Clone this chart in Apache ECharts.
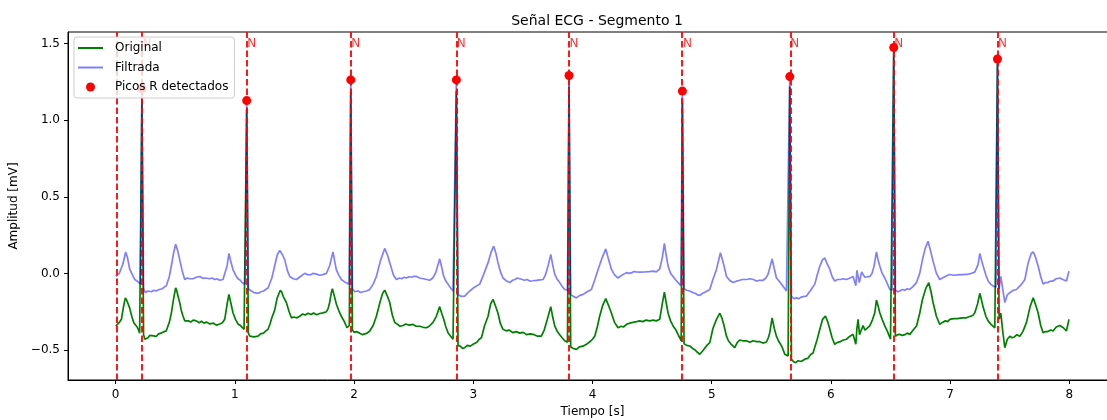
<!DOCTYPE html>
<html>
<head>
<meta charset="utf-8">
<script src="https://cdn.jsdelivr.net/npm/echarts@6/dist/echarts.min.js"></script>
<style>
  html, body { margin: 0; padding: 0; background: #fff; }
  #chart { width: 1107px; height: 420px; }
</style>
</head>
<body>
<div id="chart"></div>
<script>
// tiempo [s], amplitud [mV]
const original = [
  [0.000,-0.345],[0.015,-0.335],[0.030,-0.32],[0.048,-0.30],[0.065,-0.22],[0.081,-0.16],[0.092,-0.175],[0.100,-0.19],[0.117,-0.225],[0.135,-0.28],[0.151,-0.32],[0.165,-0.335],[0.180,-0.35],[0.192,-0.37],[0.201,-0.39],[0.210,-0.38],
  [0.220,1.14],[0.234,-0.40],
  [0.245,-0.43],[0.258,-0.425],[0.271,-0.42],[0.285,-0.405],[0.300,-0.418],[0.320,-0.408],[0.340,-0.412],[0.360,-0.395],[0.380,-0.39],[0.400,-0.382],[0.425,-0.375],[0.440,-0.34],[0.450,-0.32],[0.467,-0.26],[0.485,-0.17],[0.503,-0.095],[0.512,-0.11],[0.520,-0.14],[0.537,-0.19],[0.550,-0.24],[0.565,-0.28],[0.580,-0.31],[0.593,-0.32],[0.610,-0.31],[0.630,-0.318],[0.650,-0.305],[0.677,-0.31],[0.700,-0.322],[0.720,-0.312],[0.740,-0.325],[0.761,-0.318],[0.790,-0.33],[0.820,-0.325],[0.845,-0.338],[0.873,-0.33],[0.895,-0.322],[0.915,-0.30],[0.935,-0.20],[0.950,-0.137],[0.965,-0.19],[0.984,-0.257],[1.005,-0.30],[1.026,-0.33],[1.045,-0.34],[1.060,-0.35],[1.077,-0.365],[1.088,-0.37],
  [1.099,1.07],[1.113,-0.39],
  [1.125,-0.41],[1.138,-0.40],[1.160,-0.415],[1.175,-0.405],[1.194,-0.41],[1.215,-0.395],[1.240,-0.39],[1.260,-0.375],[1.278,-0.365],[1.295,-0.33],[1.310,-0.29],[1.334,-0.24],[1.355,-0.16],[1.381,-0.11],[1.395,-0.125],[1.405,-0.15],[1.432,-0.19],[1.455,-0.25],[1.474,-0.29],[1.495,-0.285],[1.520,-0.29],[1.544,-0.28],[1.570,-0.265],[1.590,-0.272],[1.614,-0.26],[1.640,-0.268],[1.660,-0.258],[1.685,-0.27],[1.712,-0.262],[1.740,-0.258],[1.768,-0.25],[1.782,-0.23],[1.795,-0.19],[1.808,-0.13],[1.818,-0.10],[1.835,-0.15],[1.851,-0.20],[1.870,-0.24],[1.893,-0.28],[1.915,-0.31],[1.941,-0.355],[1.960,-0.34],
  [1.972,1.19],[1.986,-0.37],
  [2.000,-0.385],[2.020,-0.38],[2.047,-0.39],[2.070,-0.40],[2.090,-0.395],[2.110,-0.39],[2.131,-0.376],[2.160,-0.34],[2.187,-0.28],[2.220,-0.18],[2.240,-0.13],[2.257,-0.109],[2.280,-0.15],[2.299,-0.19],[2.320,-0.27],[2.341,-0.32],[2.360,-0.33],[2.385,-0.345],[2.411,-0.34],[2.435,-0.33],[2.460,-0.338],[2.495,-0.333],[2.520,-0.345],[2.550,-0.345],[2.580,-0.352],[2.607,-0.355],[2.630,-0.345],[2.662,-0.32],[2.690,-0.28],[2.718,-0.217],[2.735,-0.26],[2.752,-0.30],[2.770,-0.35],[2.788,-0.387],[2.810,-0.41],[2.830,-0.43],[2.846,-0.44],
  [2.858,1.19],[2.872,-0.47],
  [2.890,-0.475],[2.910,-0.49],[2.928,-0.485],[2.950,-0.47],[2.975,-0.475],[2.998,-0.463],[3.030,-0.45],[3.050,-0.43],[3.068,-0.42],[3.095,-0.34],[3.124,-0.28],[3.145,-0.20],[3.166,-0.17],[3.185,-0.21],[3.207,-0.26],[3.228,-0.33],[3.249,-0.365],[3.275,-0.375],[3.300,-0.37],[3.333,-0.387],[3.360,-0.38],[3.390,-0.39],[3.420,-0.385],[3.445,-0.40],[3.480,-0.395],[3.510,-0.40],[3.540,-0.41],[3.571,-0.41],[3.595,-0.37],[3.621,-0.30],[3.650,-0.217],[3.665,-0.28],[3.683,-0.343],[3.705,-0.38],[3.725,-0.40],[3.745,-0.42],[3.767,-0.44],[3.790,-0.45],
  [3.803,1.22],[3.817,-0.48],
  [3.840,-0.49],[3.865,-0.496],[3.890,-0.48],[3.920,-0.475],[3.949,-0.463],[3.980,-0.445],[4.000,-0.43],[4.019,-0.41],[4.040,-0.35],[4.060,-0.28],[4.085,-0.21],[4.111,-0.165],[4.135,-0.21],[4.159,-0.26],[4.185,-0.32],[4.214,-0.355],[4.240,-0.345],[4.260,-0.35],[4.285,-0.333],[4.310,-0.325],[4.340,-0.32],[4.370,-0.315],[4.396,-0.31],[4.420,-0.315],[4.450,-0.305],[4.480,-0.31],[4.508,-0.305],[4.535,-0.31],[4.564,-0.30],[4.585,-0.20],[4.603,-0.122],[4.618,-0.19],[4.634,-0.26],[4.655,-0.31],[4.676,-0.343],[4.700,-0.37],[4.718,-0.40],[4.732,-0.42],[4.744,-0.44],
  [4.754,1.12],[4.768,-0.46],
  [4.790,-0.47],[4.816,-0.474],[4.840,-0.49],[4.860,-0.50],[4.880,-0.515],[4.900,-0.528],[4.920,-0.51],[4.940,-0.49],[4.960,-0.47],[4.984,-0.452],[5.010,-0.36],[5.040,-0.30],[5.068,-0.26],[5.085,-0.29],[5.100,-0.33],[5.124,-0.41],[5.140,-0.44],[5.160,-0.46],[5.175,-0.47],[5.193,-0.485],[5.215,-0.45],[5.235,-0.435],[5.260,-0.44],[5.290,-0.44],[5.320,-0.45],[5.347,-0.44],[5.375,-0.445],[5.400,-0.445],[5.430,-0.455],[5.459,-0.448],[5.475,-0.42],[5.487,-0.387],[5.507,-0.29],[5.525,-0.36],[5.543,-0.41],[5.560,-0.44],[5.571,-0.452],[5.590,-0.48],[5.613,-0.528],[5.641,-0.54],
  [5.655,1.22],[5.669,-0.56],
  [5.685,-0.575],[5.705,-0.583],[5.725,-0.57],[5.750,-0.575],[5.781,-0.56],[5.805,-0.555],[5.830,-0.53],[5.850,-0.52],[5.865,-0.507],[5.885,-0.43],[5.907,-0.365],[5.930,-0.30],[5.954,-0.278],[5.975,-0.32],[5.991,-0.365],[6.010,-0.42],[6.032,-0.463],[6.055,-0.45],[6.080,-0.445],[6.105,-0.435],[6.130,-0.43],[6.160,-0.41],[6.186,-0.398],[6.209,-0.463],[6.218,-0.36],[6.228,-0.30],[6.240,-0.40],[6.256,-0.387],[6.270,-0.34],[6.285,-0.37],[6.300,-0.36],[6.326,-0.343],[6.350,-0.30],[6.368,-0.257],[6.382,-0.174],[6.395,-0.21],[6.410,-0.257],[6.430,-0.30],[6.452,-0.343],[6.475,-0.38],[6.500,-0.43],[6.514,-0.44],
  [6.527,1.45],[6.541,-0.41],
  [6.560,-0.40],[6.578,-0.398],[6.600,-0.405],[6.620,-0.40],[6.640,-0.39],[6.662,-0.398],[6.690,-0.37],[6.718,-0.343],[6.745,-0.26],[6.768,-0.17],[6.795,-0.10],[6.821,-0.061],[6.840,-0.12],[6.857,-0.19],[6.885,-0.28],[6.913,-0.333],[6.935,-0.32],[6.960,-0.31],[6.980,-0.315],[6.997,-0.30],[7.030,-0.295],[7.060,-0.295],[7.100,-0.29],[7.137,-0.29],[7.170,-0.28],[7.190,-0.275],[7.207,-0.257],[7.230,-0.20],[7.249,-0.13],[7.262,-0.17],[7.277,-0.22],[7.300,-0.28],[7.319,-0.31],[7.345,-0.335],[7.375,-0.355],[7.386,-0.36],
  [7.397,1.37],[7.411,-0.30],
  [7.425,-0.26],[7.445,-0.40],[7.459,-0.485],[7.480,-0.43],[7.501,-0.41],[7.520,-0.42],[7.540,-0.415],[7.560,-0.40],[7.585,-0.41],[7.610,-0.38],[7.641,-0.32],[7.670,-0.22],[7.697,-0.16],[7.715,-0.20],[7.738,-0.257],[7.760,-0.34],[7.780,-0.387],[7.800,-0.38],[7.820,-0.38],[7.845,-0.37],[7.864,-0.376],[7.890,-0.35],[7.920,-0.34],[7.950,-0.355],[7.976,-0.376],[7.997,-0.30]
];

const filtrada = [
  [0.000,-0.02],[0.030,0.00],[0.060,0.06],[0.084,0.14],[0.100,0.10],[0.117,0.03],[0.140,-0.01],[0.160,-0.04],[0.180,-0.05],[0.195,-0.06],[0.208,-0.07],
  [0.220,1.209],[0.234,-0.10],
  [0.250,-0.125],[0.271,-0.115],[0.300,-0.12],[0.320,-0.11],[0.340,-0.115],[0.365,-0.105],[0.390,-0.10],[0.425,-0.08],[0.450,-0.02],[0.467,0.05],[0.485,0.13],[0.503,0.19],[0.520,0.15],[0.537,0.09],[0.560,0.01],[0.579,-0.04],[0.600,-0.03],[0.620,-0.035],[0.649,-0.035],[0.675,-0.025],[0.705,-0.02],[0.730,-0.032],[0.750,-0.03],[0.789,-0.035],[0.810,-0.03],[0.830,-0.04],[0.850,-0.035],[0.873,-0.045],[0.900,-0.04],[0.915,-0.03],[0.935,0.05],[0.950,0.13],[0.965,0.08],[0.984,0.025],[1.005,-0.01],[1.026,-0.035],[1.045,-0.045],[1.060,-0.06],[1.086,-0.07],
  [1.099,1.128],[1.113,-0.10],
  [1.138,-0.115],[1.160,-0.125],[1.194,-0.13],[1.220,-0.12],[1.240,-0.115],[1.278,-0.095],[1.310,-0.03],[1.334,0.05],[1.355,0.12],[1.376,0.15],[1.400,0.12],[1.418,0.09],[1.440,0.02],[1.460,-0.02],[1.490,-0.035],[1.516,-0.04],[1.550,-0.02],[1.586,0.00],[1.610,-0.008],[1.630,-0.01],[1.655,0.0],[1.684,-0.005],[1.710,-0.012],[1.730,-0.01],[1.768,0.00],[1.795,0.05],[1.810,0.10],[1.823,0.14],[1.837,0.08],[1.851,0.025],[1.870,-0.01],[1.893,-0.04],[1.930,-0.06],[1.958,-0.07],
  [1.972,1.263],[1.986,-0.10],
  [2.005,-0.12],[2.033,-0.115],[2.055,-0.125],[2.075,-0.12],[2.105,-0.115],[2.131,-0.105],[2.160,-0.07],[2.187,-0.02],[2.220,0.08],[2.257,0.163],[2.280,0.12],[2.299,0.07],[2.330,-0.01],[2.355,-0.04],[2.380,-0.03],[2.400,-0.035],[2.420,-0.025],[2.439,-0.03],[2.460,-0.022],[2.480,-0.025],[2.500,-0.02],[2.523,-0.02],[2.550,-0.03],[2.580,-0.035],[2.610,-0.04],[2.634,-0.045],[2.660,-0.03],[2.685,0.005],[2.718,0.095],[2.735,0.04],[2.752,-0.02],[2.770,-0.05],[2.788,-0.07],[2.810,-0.095],[2.830,-0.115],[2.846,-0.12],
  [2.858,1.263],[2.872,-0.14],
  [2.900,-0.15],[2.928,-0.148],[2.950,-0.13],[2.970,-0.115],[3.010,-0.09],[3.054,-0.07],[3.090,0.00],[3.124,0.07],[3.150,0.14],[3.171,0.178],[3.190,0.13],[3.207,0.07],[3.228,0.01],[3.249,-0.03],[3.280,-0.05],[3.306,-0.06],[3.330,-0.045],[3.350,-0.04],[3.370,-0.03],[3.390,-0.035],[3.410,-0.04],[3.430,-0.045],[3.450,-0.04],[3.473,-0.05],[3.500,-0.048],[3.530,-0.045],[3.560,-0.042],[3.585,-0.04],[3.605,-0.01],[3.627,0.048],[3.650,0.124],[3.665,0.06],[3.683,-0.005],[3.705,-0.04],[3.725,-0.06],[3.745,-0.085],[3.767,-0.105],[3.790,-0.11],
  [3.803,1.292],[3.817,-0.14],
  [3.840,-0.15],[3.865,-0.16],[3.890,-0.145],[3.921,-0.137],[3.955,-0.12],[3.991,-0.105],[4.020,-0.04],[4.047,0.026],[4.080,0.10],[4.111,0.16],[4.135,0.09],[4.159,0.026],[4.185,-0.01],[4.214,-0.03],[4.250,-0.01],[4.285,0.005],[4.310,0.0],[4.330,0.005],[4.350,0.012],[4.369,0.01],[4.400,0.008],[4.440,0.01],[4.475,0.012],[4.508,0.015],[4.535,0.01],[4.564,0.03],[4.585,0.10],[4.603,0.196],[4.618,0.12],[4.634,0.048],[4.655,0.0],[4.676,-0.02],[4.700,-0.045],[4.718,-0.06],[4.742,-0.08],
  [4.754,1.19],[4.768,-0.10],
  [4.790,-0.11],[4.816,-0.115],[4.840,-0.125],[4.860,-0.13],[4.880,-0.14],[4.900,-0.143],[4.925,-0.13],[4.950,-0.12],[4.984,-0.105],[5.010,-0.04],[5.040,0.026],[5.073,0.135],[5.100,0.06],[5.124,-0.02],[5.150,-0.045],[5.180,-0.06],[5.210,-0.05],[5.235,-0.045],[5.260,-0.04],[5.292,-0.04],[5.320,-0.035],[5.350,-0.04],[5.375,-0.05],[5.400,-0.045],[5.431,-0.045],[5.455,-0.03],[5.473,-0.005],[5.507,0.095],[5.525,0.03],[5.543,-0.03],[5.565,-0.05],[5.585,-0.07],[5.605,-0.09],[5.627,-0.115],[5.643,-0.12],
  [5.655,1.285],[5.669,-0.15],
  [5.690,-0.165],[5.711,-0.16],[5.730,-0.165],[5.750,-0.155],[5.775,-0.15],[5.795,-0.148],[5.830,-0.11],[5.865,-0.07],[5.885,-0.01],[5.907,0.048],[5.930,0.09],[5.949,0.10],[5.970,0.06],[5.991,0.026],[6.010,-0.02],[6.032,-0.05],[6.055,-0.04],[6.080,-0.04],[6.105,-0.035],[6.130,-0.04],[6.160,-0.03],[6.186,-0.02],[6.209,-0.08],[6.218,0.02],[6.228,0.015],[6.238,-0.06],[6.248,-0.05],[6.258,0.01],[6.270,-0.007],[6.285,-0.025],[6.300,-0.03],[6.326,-0.02],[6.345,0.0],[6.362,0.048],[6.382,0.14],[6.395,0.09],[6.410,0.048],[6.430,0.0],[6.452,-0.03],[6.475,-0.07],[6.494,-0.105],[6.514,-0.11],
  [6.527,1.475],[6.541,-0.11],
  [6.560,-0.12],[6.578,-0.115],[6.600,-0.105],[6.620,-0.11],[6.640,-0.10],[6.662,-0.105],[6.690,-0.085],[6.718,-0.06],[6.745,0.00],[6.768,0.09],[6.790,0.16],[6.815,0.21],[6.835,0.15],[6.857,0.08],[6.885,0.00],[6.913,-0.04],[6.935,-0.03],[6.960,-0.02],[6.980,-0.012],[6.997,-0.007],[7.030,-0.012],[7.060,-0.01],[7.100,-0.008],[7.137,-0.007],[7.170,-0.002],[7.207,0.008],[7.235,0.059],[7.249,0.13],[7.262,0.09],[7.277,0.048],[7.300,-0.01],[7.319,-0.05],[7.340,-0.07],[7.361,-0.083],[7.385,-0.09],
  [7.397,1.40],[7.411,-0.10],
  [7.425,-0.02],[7.445,-0.12],[7.459,-0.19],[7.480,-0.14],[7.501,-0.126],[7.530,-0.11],[7.557,-0.105],[7.600,-0.07],[7.627,-0.04],[7.655,0.07],[7.680,0.13],[7.697,0.14],[7.715,0.11],[7.738,0.048],[7.760,-0.02],[7.780,-0.07],[7.800,-0.06],[7.820,-0.06],[7.845,-0.05],[7.864,-0.05],[7.890,-0.035],[7.920,-0.03],[7.945,-0.04],[7.960,-0.045],[7.976,-0.05],[7.997,0.015]
];

// lineas verticales (la primera no tiene pico marcado)
const lineasR = [0.005, 0.220, 1.099, 1.972, 2.858, 3.803, 4.754, 5.655, 6.527, 7.397];
const picosT = [0.220, 1.099, 1.972, 2.858, 3.803, 4.754, 5.655, 6.527, 7.397];
const picosV = [1.209, 1.128, 1.263, 1.263, 1.292, 1.19, 1.285, 1.475, 1.40];
const etiquetas = ['N', 'N', 'N', 'N', 'N', 'N', 'N', 'N', 'N'];

const xTicks = [0, 1, 2, 3, 4, 5, 6, 7, 8];
const yTicks = [-0.5, 0, 0.5, 1.0, 1.5];

const font = 'DejaVu Sans';
const chart = echarts.init(document.getElementById('chart'));

const labelY = 1.5;
const lineIcon = 'path://M0,0 L25,0 L25,2 L0,2 Z';

chart.setOption({
  animation: false,
  textStyle: { fontFamily: font },
  title: {
    text: 'Señal ECG - Segmento 1',
    left: 592,
    textAlign: 'center',
    top: 9,
    textStyle: { fontFamily: font, fontSize: 14, fontWeight: 'normal', color: '#000' },
  },
  legend: {
    orient: 'vertical',
    left: 74,
    top: 37,
    zlevel: 1,
    padding: [5, 6, 5, 4],
    itemWidth: 25,
    itemHeight: 9,
    itemGap: 7.5,
    backgroundColor: 'rgba(255,255,255,0.8)',
    borderColor: '#cccccc',
    borderWidth: 1,
    borderRadius: 3,
    textStyle: { fontFamily: font, fontSize: 12, color: '#000', lineHeight: 12, padding: [0, 0, 0, 7] },
    data: [
      { name: 'Original', icon: lineIcon, itemStyle: { color: '#008000', borderWidth: 0 } },
      { name: 'Filtrada', icon: lineIcon, itemStyle: { color: 'rgba(0,0,255,0.5)', borderWidth: 0 } },
      { name: 'Picos R detectados', icon: 'circle' },
    ],
  },
  grid: {
    left: 68,
    top: 32,
    width: 1049,
    height: 348,
    outerBoundsMode: 'none',
    show: true,
    borderColor: '#000',
    borderWidth: 1,
    backgroundColor: 'transparent',
  },
  xAxis: {
    type: 'value',
    min: -0.4,
    max: 8.4,
    name: 'Tiempo [s]',
    nameLocation: 'middle',
    nameGap: 25,
    nameTextStyle: { fontFamily: font, fontSize: 12, color: '#000' },
    axisLine: { show: true, onZero: false, lineStyle: { color: '#000', width: 1 } },
    axisTick: { show: true, length: 4, lineStyle: { color: '#000' }, customValues: xTicks },
    axisLabel: { margin: 9, fontSize: 12, color: '#000', fontFamily: font, customValues: xTicks,
      formatter: v => String(v) },
    splitLine: { show: false },
  },
  yAxis: {
    type: 'value',
    min: -0.696,
    max: 1.576,
    name: 'Amplitud [mV]',
    nameLocation: 'middle',
    nameGap: 42,
    nameTextStyle: { fontFamily: font, fontSize: 12, color: '#000' },
    axisLine: { show: true, onZero: false, lineStyle: { color: '#000', width: 1 } },
    axisTick: { show: true, length: 4, lineStyle: { color: '#000' }, customValues: yTicks },
    axisLabel: { margin: 8, fontSize: 12, color: '#000', fontFamily: font, customValues: yTicks,
      formatter: v => v.toFixed(1).replace('-', '\u2212') },
    splitLine: { show: false },
  },
  series: [
    {
      name: 'Original',
      type: 'line',
      data: original,
      symbol: 'none',
      z: 2,
      lineStyle: { color: '#008000', width: 1.7 },
      itemStyle: { color: '#008000' },
    },
    {
      name: 'Filtrada',
      type: 'line',
      data: filtrada,
      symbol: 'none',
      z: 3,
      lineStyle: { color: 'rgba(0,0,255,0.5)', width: 1.7 },
      itemStyle: { color: 'rgba(0,0,255,0.5)' },
    },
    {
      name: 'lineas',
      type: 'line',
      data: [],
      z: 4,
      markLine: {
        silent: true,
        symbol: ['none', 'none'],
        label: { show: false },
        lineStyle: { color: '#ff0000', width: 1.8, type: [6.5, 3] },
        emphasis: { disabled: true },
        data: lineasR.map(t => ({ xAxis: t })),
      },
    },
    {
      name: 'Picos R detectados',
      type: 'scatter',
      data: picosT.map((t, i) => [t, picosV[i]]),
      symbol: 'circle',
      symbolSize: 9,
      z: 5,
      itemStyle: { color: '#ff0000', opacity: 1 },
    },
    {
      name: 'etiquetas',
      type: 'scatter',
      data: picosT.map((t, i) => ({ value: [t, labelY], name: etiquetas[i] })),
      symbolSize: 1,
      z: 6,
      itemStyle: { color: 'transparent' },
      label: {
        show: true,
        position: 'right',
        distance: 0,
        formatter: p => p.name,
        color: '#ff0000',
        fontSize: 12,
        fontFamily: font,
      },
    },
  ],
});
</script>
</body>
</html>
